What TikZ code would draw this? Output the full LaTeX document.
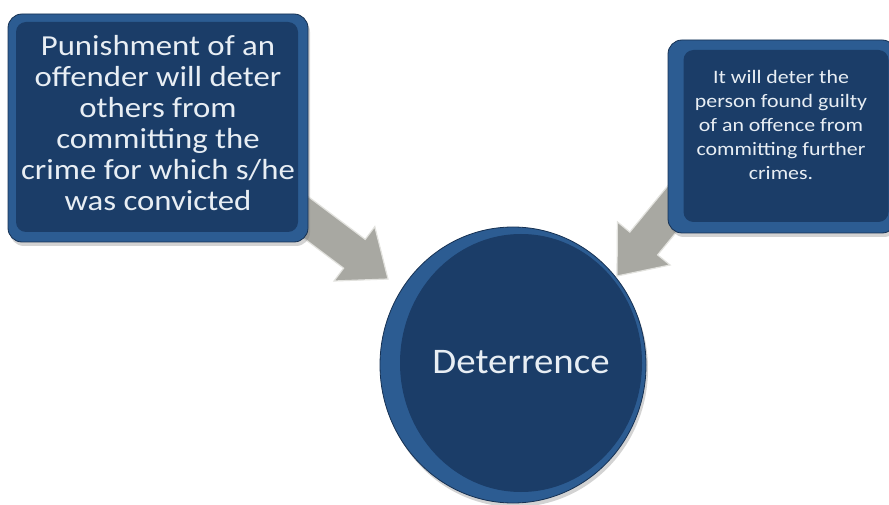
\documentclass[tikz,border=0pt]{standalone}
\usepackage{fontspec}
\setmainfont{Carlito}
\usetikzlibrary{shapes.geometric,shadows}
\definecolor{rimblue}{HTML}{2C5C92}
\definecolor{coreblue}{HTML}{1B3D68}
\definecolor{txtwhite}{HTML}{E8EEF4}
\definecolor{arrowgray}{HTML}{A8A8A2}
\definecolor{arrowedge}{HTML}{E2E2DE}
\tikzset{
  rim/.style={fill=rimblue, draw=coreblue!80!black, line width=0.8pt, rounded corners=14pt,
    drop shadow={shadow xshift=2pt, shadow yshift=-4pt, opacity=0.35}},
  core/.style={fill=coreblue, draw=none, rounded corners=10pt},
  boxtext/.style={text=txtwhite, align=center},
  blockarrow/.style={fill=arrowgray, draw=arrowedge, line width=1.2pt, line join=miter}
}
\begin{document}
\begin{tikzpicture}[x=1pt,y=-1pt]
\useasboundingbox (0,0) rectangle (889,505);
% block arrows (drawn first so boxes cover their tails)
\draw[blockarrow] (294.8,186.6) -- (365.2,239.4) -- (374.8,226.6) -- (388,279)
  -- (334,281) -- (343.6,268.2) -- (273.2,215.4) -- cycle;
\draw[blockarrow] (686.1,163.6) -- (629.8,232.1) -- (617.4,221.9) -- (617,276)
  -- (670,265) -- (657.6,254.9) -- (713.9,186.4) -- cycle;
% left box
\node[rim, minimum width=300pt, minimum height=228pt] (leftrim) at (158,128) {};
\node[core, minimum width=282pt, minimum height=210pt] (leftcore) at (157,127) {};
\node[boxtext, font=\fontsize{29}{31}\selectfont, xscale=1.13] (lefttext) at (158,123)
  {Punishment of an\\offender will deter\\others from\\committing the\\crime for which s/he\\was convicted};
% right box
\node[rim, minimum width=228pt, minimum height=193pt] (rightrim) at (782,136.5) {};
\node[core, minimum width=205pt, minimum height=172pt] (rightcore) at (786,136) {};
\node[boxtext, font=\fontsize{19}{24}\selectfont, xscale=1.15] (righttext) at (781,125)
  {It will deter the\\person found guilty\\of an offence from\\committing further\\crimes.};
% circle
\node[ellipse, fill=rimblue, draw=coreblue!80!black, line width=0.8pt,
  minimum width=266pt, minimum height=276pt,
  drop shadow={shadow xshift=2pt, shadow yshift=-4pt, opacity=0.35}] (outercircle) at (513,365) {};
\node[ellipse, fill=coreblue, minimum width=242pt, minimum height=258pt] (innercircle) at (521,363) {};
\node[text=txtwhite, font=\fontsize{36}{40}\selectfont, xscale=1.08] (deterrence) at (521,362) {Deterrence};
\end{tikzpicture}
\end{document}
